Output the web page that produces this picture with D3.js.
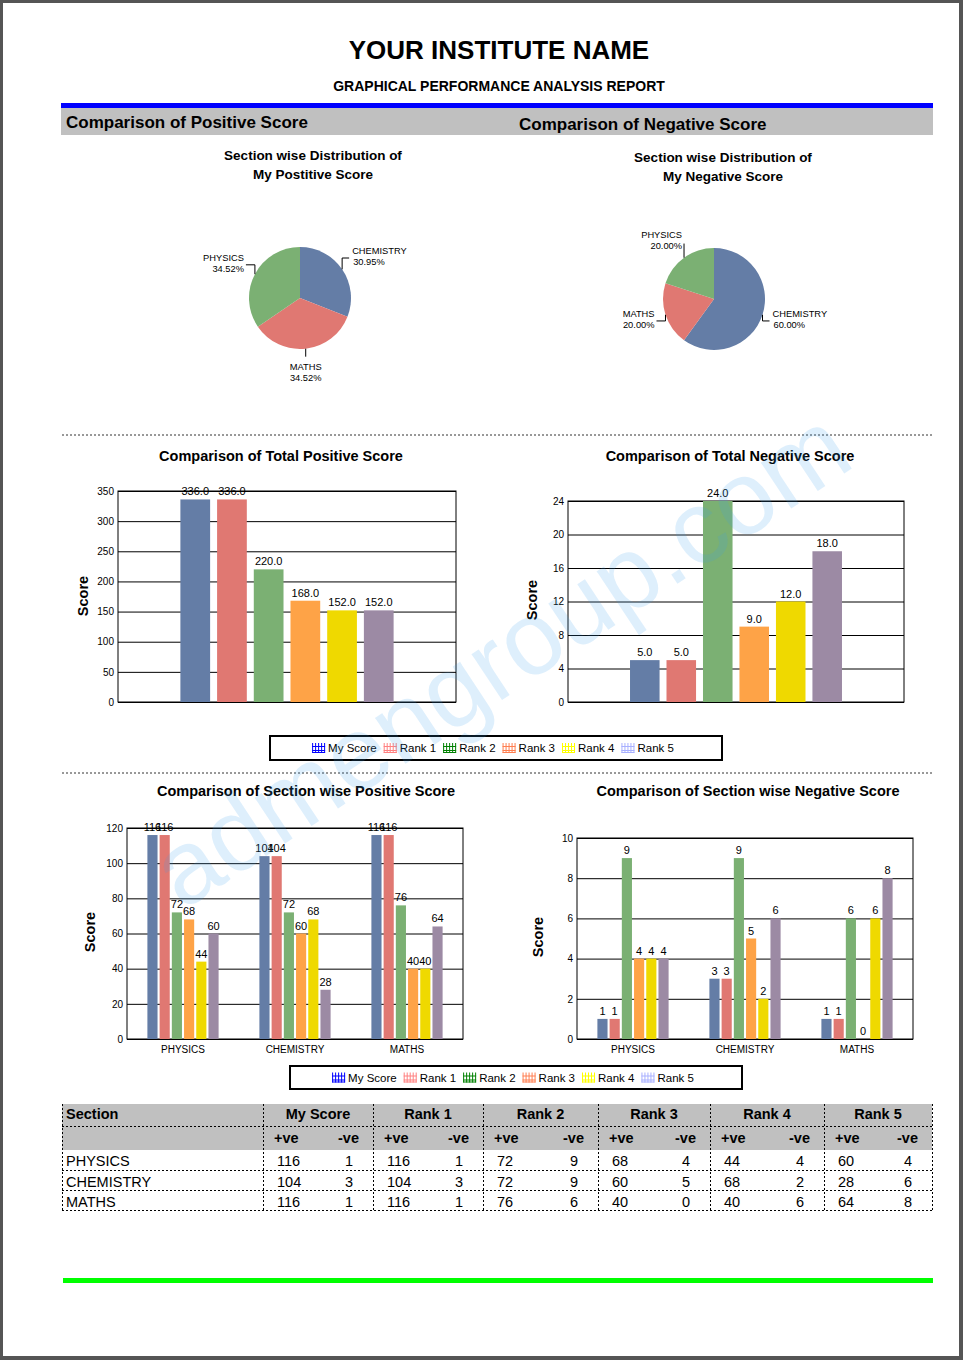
<!DOCTYPE html>
<html><head><meta charset="utf-8">
<script src="https://cdn.jsdelivr.net/npm/d3@7/dist/d3.min.js"></script>
<style>body{margin:0;background:#fff}svg{display:block}text{font-family:"Liberation Sans",Arial,sans-serif}</style>
</head><body><svg id="c" width="963" height="1360"></svg>
<script>
// ---------- DATA ----------
const sections = ["PHYSICS", "CHEMISTRY", "MATHS"];
const seriesNames = ["My Score", "Rank 1", "Rank 2", "Rank 3", "Rank 4", "Rank 5"];
const posMyScore = [116, 104, 116];
const posRank1 = [116, 104, 116];
const posRank2 = [72, 72, 76];
const posRank3 = [68, 60, 40];
const posRank4 = [44, 68, 40];
const posRank5 = [60, 28, 64];
const negMyScore = [1, 3, 1];
const negRank1 = [1, 3, 1];
const negRank2 = [9, 9, 6];
const negRank3 = [4, 5, 0];
const negRank4 = [4, 2, 6];
const negRank5 = [4, 6, 8];
const totalPositive = [336, 336, 220, 168, 152, 152];
const totalNegative = [5, 5, 24, 9, 12, 18];
const pieSections = ["CHEMISTRY", "MATHS", "PHYSICS"];
const piePosValues = [104, 116, 116];
const piePosPct = ["30.95%", "34.52%", "34.52%"];
const pieNegValues = [3, 1, 1];
const pieNegPct = ["60.00%", "20.00%", "20.00%"];
const ticksTotalPos = [0, 50, 100, 150, 200, 250, 300, 350];
const ticksTotalNeg = [0, 4, 8, 12, 16, 20, 24];
const ticksSecPos = [0, 20, 40, 60, 80, 100, 120];
const ticksSecNeg = [0, 2, 4, 6, 8, 10];

const barColors = ["#647da6", "#e07872", "#7bb073", "#fea347", "#efd900", "#9c8aa4"];
const legendColors = ["#0000ff", "#ff8080", "#008000", "#ff7f50", "#ffff00", "#a8b0ff"];

const posBySeries = [posMyScore, posRank1, posRank2, posRank3, posRank4, posRank5];
const negBySeries = [negMyScore, negRank1, negRank2, negRank3, negRank4, negRank5];

// ---------- PAGE ----------
const svg = d3.select("#c");
svg.append("rect").attr("width", 963).attr("height", 1360).attr("fill", "#555");
svg.append("rect").attr("x", 3).attr("y", 3).attr("width", 956).attr("height", 1353).attr("fill", "#fff");

svg.append("text").attr("x", 499).attr("y", 59).attr("text-anchor", "middle")
  .attr("font-size", 26).attr("font-weight", "bold").text("YOUR INSTITUTE NAME");
svg.append("text").attr("x", 499).attr("y", 91).attr("text-anchor", "middle")
  .attr("font-size", 14).attr("font-weight", "bold").text("GRAPHICAL PERFORMANCE ANALYSIS REPORT");

svg.append("rect").attr("x", 61).attr("y", 103).attr("width", 872).attr("height", 5).attr("fill", "#0000ff");
svg.append("rect").attr("x", 61).attr("y", 108).attr("width", 872).attr("height", 27).attr("fill", "#c0c0c0");
svg.append("text").attr("x", 66).attr("y", 128).attr("font-size", 17).attr("font-weight", "bold").text("Comparison of Positive Score");
svg.append("text").attr("x", 519).attr("y", 130).attr("font-size", 17).attr("font-weight", "bold").text("Comparison of Negative Score");

[435, 773].forEach(y => svg.append("line").attr("x1", 62).attr("x2", 933).attr("y1", y).attr("y2", y)
  .attr("stroke", "#333").attr("stroke-dasharray", "2,2"));

svg.append("rect").attr("x", 63).attr("y", 1278).attr("width", 870).attr("height", 5).attr("fill", "#00ff00");

// ---------- PIES ----------
function pieChart(cx, cy, r, values, pcts, titleLines, tx, ty) {
  const g = svg.append("g");
  titleLines.forEach((t, i) => g.append("text").attr("x", tx).attr("y", ty + i * 19).attr("text-anchor", "middle")
    .attr("font-size", 13.5).attr("font-weight", "bold").text(t));
  const arcs = d3.pie().sort(null).value(d => d)(values);
  const arc = d3.arc().innerRadius(0).outerRadius(r);
  const pg = g.append("g").attr("transform", `translate(${cx},${cy})`);
  pg.selectAll("path").data(arcs).join("path").attr("d", arc).attr("fill", (d, i) => barColors[i]);
  arcs.forEach((d, i) => {
    const a = (d.startAngle + d.endAngle) / 2;
    const sx = Math.sin(a), sy = -Math.cos(a);
    const ax = sx * r, ay = sy * r;
    const ly = sy * (r + 20);
    const lbl = pg.append("g").attr("font-size", 9.3);
    if (Math.abs(sx) < 0.3) {
      const top = sy > 0 ? ay + 10 : ay - 30;
      pg.append("line").attr("x1", ax).attr("y1", ay).attr("x2", ax).attr("y2", sy > 0 ? top - 2 : top + 24).attr("stroke", "#000");
      lbl.append("text").attr("x", ax).attr("y", top + 11).attr("text-anchor", "middle").text(pieSections[i]);
      lbl.append("text").attr("x", ax).attr("y", top + 22).attr("text-anchor", "middle").text(pcts[i]);
    } else {
      const right = sx > 0;
      const steep = Math.abs(sy) > 0.75;
      const off = steep ? 2 : (right ? 10 : 11);
      const lx = right ? ax + off : ax - off;
      const ex = steep ? ax : (right ? lx - 3 : lx + 2);
      pg.append("path").attr("d", `M${ax},${ay}V${steep ? ly + 2 : ly}H${ex}`).attr("fill", "none").attr("stroke", "#000");
      const anchor = right ? "start" : "end";
      lbl.append("text").attr("x", lx).attr("y", ly - 4).attr("text-anchor", anchor).text(pieSections[i]);
      lbl.append("text").attr("x", right ? lx + 1 : lx).attr("y", ly + 7).attr("text-anchor", anchor).text(pcts[i]);
    }
  });
}
pieChart(300, 298, 51, piePosValues, piePosPct, ["Section wise Distribution of", "My Postitive Score"], 313, 160);
pieChart(714, 299, 51, pieNegValues, pieNegPct, ["Section wise Distribution of", "My Negative Score"], 723, 162);

// ---------- BAR CHARTS ----------
function frameAxes(g, x0, x1, y0, y1, max, ticks) {
  const y = d3.scaleLinear().domain([0, max]).range([y1, y0]);
  const ax = g.append("g").attr("transform", `translate(${x0},0)`)
    .call(d3.axisLeft(y).tickValues(ticks).tickSize(-(x1 - x0)).tickPadding(4).tickFormat(d3.format("d")));
  ax.select(".domain").remove();
  ax.selectAll(".tick line").attr("stroke", "#000");
  ax.selectAll(".tick text").attr("font-size", 10).attr("fill", "#000").attr("font-family", "Liberation Sans, Arial, sans-serif");
  g.append("rect").attr("x", x0).attr("y", y0).attr("width", x1 - x0).attr("height", y1 - y0)
    .attr("fill", "none").attr("stroke", "#000");
  return y;
}
function scoreLabel(g, x, y) {
  g.append("text").attr("transform", `translate(${x},${y}) rotate(-90)`).attr("text-anchor", "middle")
    .attr("font-size", 14.5).attr("font-weight", "bold").text("Score");
}
function title(g, x, y, t) {
  g.append("text").attr("x", x).attr("y", y).attr("text-anchor", "middle").attr("font-size", 14.5)
    .attr("font-weight", "bold").text(t);
}

function totalChart(x0, x1, y0, y1, max, ticks, values, t, tx, sx, sy) {
  const g = svg.append("g");
  title(g, tx, 461, t);
  const y = frameAxes(g, x0, x1, y0, y1, max, ticks);
  const x = d3.scaleBand().domain(seriesNames).range([x0, x1]).paddingInner(0.19).paddingOuter(1.7);
  g.selectAll("rect.bar").data(values).join("rect").attr("class", "bar")
    .attr("x", (d, i) => x(seriesNames[i])).attr("width", x.bandwidth())
    .attr("y", d => y(d)).attr("height", d => y(0) - y(d)).attr("fill", (d, i) => barColors[i]);
  g.selectAll("text.val").data(values).join("text").attr("class", "val")
    .attr("x", (d, i) => x(seriesNames[i]) + x.bandwidth() / 2).attr("y", d => y(d) - 4)
    .attr("text-anchor", "middle").attr("font-size", 11).text(d => d3.format(".1f")(d));
  scoreLabel(g, sx, sy);
}
totalChart(118, 456, 491, 702, 350, ticksTotalPos, totalPositive, "Comparison of Total Positive Score", 281, 88, 596);
totalChart(568, 904, 501, 702, 24, ticksTotalNeg, totalNegative, "Comparison of Total Negative Score", 730, 537, 600);

function sectionChart(x0, x1, y0, y1, max, ticks, bySeries, t, tx, sx, sy) {
  const g = svg.append("g");
  title(g, tx, 796, t);
  const y = frameAxes(g, x0, x1, y0, y1, max, ticks);
  const xg = d3.scaleBand().domain(sections).range([x0, x1]);
  const xs = d3.scaleBand().domain(seriesNames).range([0, xg.bandwidth()]).paddingInner(0.17).paddingOuter(1.67);
  sections.forEach((s, si) => {
    const gg = g.append("g").attr("transform", `translate(${xg(s)},0)`);
    const vals = bySeries.map(arr => arr[si]);
    gg.selectAll("rect").data(vals).join("rect")
      .attr("x", (d, i) => xs(seriesNames[i])).attr("width", xs.bandwidth())
      .attr("y", d => y(d)).attr("height", d => y(0) - y(d)).attr("fill", (d, i) => barColors[i]);
    gg.selectAll("text").data(vals).join("text")
      .attr("x", (d, i) => xs(seriesNames[i]) + xs.bandwidth() / 2).attr("y", d => y(d) - 4)
      .attr("text-anchor", "middle").attr("font-size", 11).text(d => d);
    g.append("text").attr("x", xg(s) + xg.bandwidth() / 2).attr("y", y1 + 14).attr("text-anchor", "middle")
      .attr("font-size", 10).text(s);
  });
  scoreLabel(g, sx, sy);
}
sectionChart(127, 463, 828, 1039, 120, ticksSecPos, posBySeries, "Comparison of Section wise Positive Score", 306, 95, 932);
sectionChart(577, 913, 838, 1039, 10, ticksSecNeg, negBySeries, "Comparison of Section wise Negative Score", 748, 543, 937);

// ---------- LEGENDS ----------
function legend(x, y, w, h) {
  const g = svg.append("g");
  g.append("rect").attr("x", x).attr("y", y).attr("width", w).attr("height", h)
    .attr("fill", "#fff").attr("stroke", "#000").attr("stroke-width", 2);
  const items = g.append("g");
  let cur = 0;
  const base = y + h / 2 + 4;
  seriesNames.forEach((n, i) => {
    const ig = items.append("g").attr("transform", `translate(${cur},0)`);
    const c = legendColors[i];
    [0, 3, 6, 9, 12].forEach(dx => ig.append("line").attr("x1", dx + 0.5).attr("x2", dx + 0.5)
      .attr("y1", base - 9).attr("y2", base + 1).attr("stroke", c));
    [base - 5.5, base - 1.5, base + 0.5].forEach(yy => ig.append("line").attr("x1", 0).attr("x2", 13)
      .attr("y1", yy).attr("y2", yy).attr("stroke", c));
    const tt = ig.append("text").attr("x", 16).attr("y", base).attr("font-size", 11.5).text(n);
    cur += 16 + tt.node().getComputedTextLength() + 7;
  });
  cur -= 7;
  items.attr("transform", `translate(${x + (w - cur) / 2 - 3},0)`);
}
legend(270, 736, 452, 24);
legend(290, 1066, 452, 23);

// ---------- TABLE ----------
const colEdges = [62, 263, 373, 483, 598, 710, 824, 932];
const tg = svg.append("g").attr("font-size", 14.5);
tg.append("rect").attr("x", 62).attr("y", 1104).attr("width", 870).attr("height", 46).attr("fill", "#c0c0c0");
function dline(x1, y1, x2, y2) {
  tg.append("line").attr("x1", x1).attr("y1", y1).attr("x2", x2).attr("y2", y2)
    .attr("stroke", "#000").attr("stroke-dasharray", "2,2");
}
[1126, 1170, 1190, 1210].forEach(yy => dline(62, yy + 0.5, 932, yy + 0.5));
colEdges.forEach(xx => dline(xx + 0.5, 1104, xx + 0.5, 1211));
tg.append("text").attr("x", 66).attr("y", 1119).attr("font-weight", "bold").text("Section");
seriesNames.forEach((n, i) => {
  const l = colEdges[i + 1], r = colEdges[i + 2];
  tg.append("text").attr("x", (l + r) / 2).attr("y", 1119).attr("text-anchor", "middle").attr("font-weight", "bold").text(n);
  tg.append("text").attr("x", l + 11).attr("y", 1143).attr("font-weight", "bold").text("+ve");
  tg.append("text").attr("x", r - 14).attr("y", 1143).attr("text-anchor", "end").attr("font-weight", "bold").text("-ve");
});
sections.forEach((s, si) => {
  const yy = 1166 + si * 20.5;
  tg.append("text").attr("x", 66).attr("y", yy).text(s);
  seriesNames.forEach((n, i) => {
    const l = colEdges[i + 1], r = colEdges[i + 2];
    tg.append("text").attr("x", l + 14).attr("y", yy).text(posBySeries[i][si]);
    tg.append("text").attr("x", r - 20).attr("y", yy).attr("text-anchor", "end").text(negBySeries[i][si]);
  });
});

// ---------- WATERMARK ----------
svg.append("text").attr("transform", "translate(520,688) rotate(-33.5)").attr("text-anchor", "middle")
  .attr("font-family", "Liberation Mono, Courier New, monospace").attr("font-size", 104)
  .attr("fill", "#3a9ff0").attr("fill-opacity", 0.17).style("pointer-events", "none").text("admengroup.com");
</script></body></html>
